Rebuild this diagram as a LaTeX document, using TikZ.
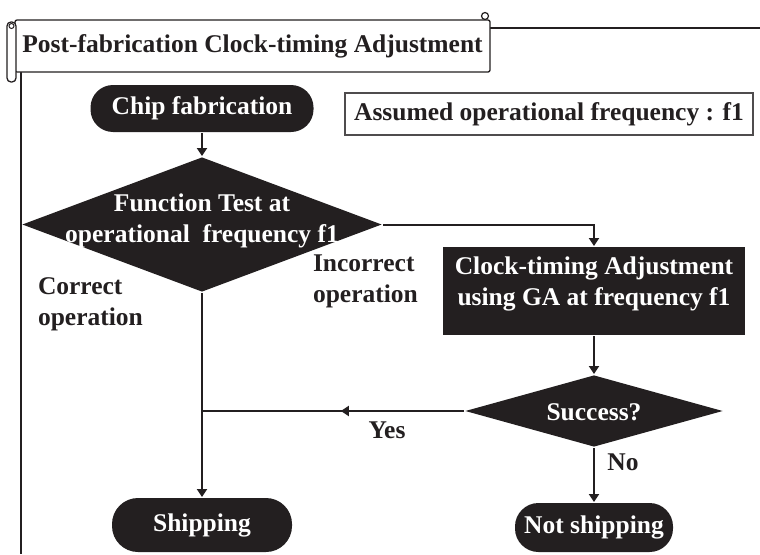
\documentclass[tikz,border=0pt]{standalone}
\usepackage{fontspec}
\setmainfont{Liberation Serif}
\usetikzlibrary{shapes.geometric,arrows.meta,decorations.markings}
\definecolor{ink}{HTML}{231F20}

\begin{document}
\begin{tikzpicture}[x=1pt,y=-1pt,
  font=\fontsize{25.5}{31}\selectfont\bfseries,
  line width=2pt,
  tip/.style={-{Triangle[width=10pt,length=8pt]}},
  midtip/.style={postaction={decorate},
    decoration={markings,mark=at position 0.47 with {\arrow{Triangle[width=10pt,length=8pt]}}}},
  pill/.style={rectangle, fill=ink, text=white, inner sep=0pt},
  decision/.style={diamond, fill=ink, inner sep=0pt},
  procbox/.style={rectangle, fill=ink, text=white, inner sep=0pt, align=center},
  wtext/.style={text=white, align=center, inner sep=0pt},
  note/.style={text=ink, align=left, inner sep=0pt},
  banner/.style={rectangle, draw=ink, line width=1.3pt, fill=white, rounded corners=2pt,
    text=ink, inner sep=0pt},
]
\useasboundingbox (0,0) rectangle (760,554);
\fill[white] (0,0) rectangle (760,554);

% outer frame
\draw[ink] (490,27.5) -- (760,27.5);
\draw[ink] (21,72) -- (21,554);

% title scroll
\draw[ink, line width=1.2pt, fill=white] (485,16) circle (3.5pt);
\node[banner, minimum width=475pt, minimum height=52pt] (title) at (252.5,46)
  {\raisebox{-2pt}{Post-fabrication Clock-timing Adjustment}};
\draw[ink, line width=1.3pt, fill=white, rounded corners=4pt] (7,22) rectangle (16,82);
\draw[ink, line width=1pt] (11.5,26) circle (2.5pt);

% flow nodes
\node[pill, minimum width=223pt, minimum height=47pt, rounded corners=22.5pt]
  (chip) at (202,108.5) {Chip fabrication};
\node[draw=ink!80, line width=1.2pt, minimum width=408pt, minimum height=42pt,
  inner sep=0pt, text=ink] (freq) at (549,114) {Assumed operational frequency : f1};

\node[decision, minimum width=360pt, minimum height=135pt] (test) at (202,224.5) {};
\node[wtext] (testtxt) at (202,221) {Function Test at\\operational~ frequency f1};

\node[procbox, minimum width=302pt, minimum height=88pt] (adj) at (594,291) {};
\node[wtext] (adjtxt) at (594,284) {Clock-timing Adjustment\\using GA at frequency f1};

\node[decision, minimum width=258pt, minimum height=72pt] (succ) at (594,411) {};
\node[wtext] (succtxt) at (594,412) {Success?};

\node[pill, minimum width=180pt, minimum height=54pt, rounded corners=26pt]
  (ship) at (202,525) {Shipping};
\node[pill, minimum width=158pt, minimum height=49pt, rounded corners=23.5pt]
  (noship) at (594,527.5) {Not shipping};

% connectors
\coordinate (join) at (test.south |- succ.west);
\draw[ink, tip] (chip.south) -- (test.north);
\draw[ink, tip] (test.east) -| (adj.north);
\draw[ink, tip] (adj.south) -- (succ.north);
\draw[ink, midtip] (succ.west) -- (join);
\draw[ink, tip] (test.south) -- (ship.north);
\draw[ink, tip] (succ.south) -- (noship.north);

% labels
\node[note, anchor=west] (correct) at (37,304) {Correct\\operation};
\node[note, anchor=west] (incorrect) at (312,281) {Incorrect\\operation};
\node[note] (yes) at (387,430) {Yes};
\node[note] (no) at (623,462) {No};
\end{tikzpicture}
\end{document}
